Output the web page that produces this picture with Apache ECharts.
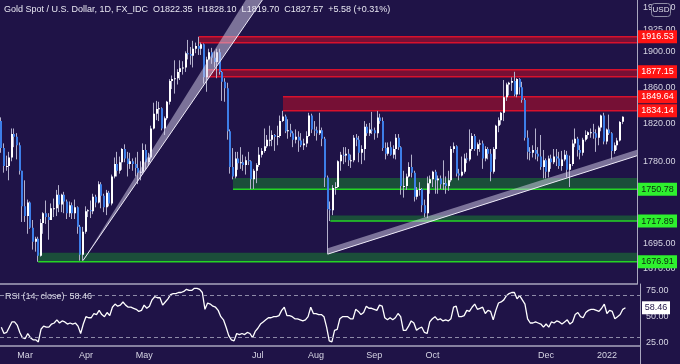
<!DOCTYPE html>
<html><head><meta charset="utf-8">
<script src="https://cdn.jsdelivr.net/npm/echarts@6/dist/echarts.min.js"></script>
<style>html,body{margin:0;padding:0;background:#1f1347;}#c{width:680px;height:364px;}</style>
</head><body><div id="c"></div>
<script>
// ---------- DATA (daily candles: [open, high, low, close]) ----------
const feb21 = [[1823,1827,1789,1794],[1794,1799,1768,1775],[1775,1786,1770,1775],[1775,1790,1760,1784],[1784,1815,1780,1809],[1809,1815,1795,1806],[1806,1810,1782,1797],[1797,1800,1766,1770],[1770,1770,1717,1733]];
const mar21 = [[1733,1760,1717,1723],[1723,1740,1705,1737],[1737,1738,1710,1711],[1711,1719,1689,1697],[1697,1702,1687,1700],[1700,1702,1676.91,1683],[1683,1720,1682,1716],[1716,1727,1705,1726],[1726,1739,1715,1722],[1722,1726,1699,1719],[1719,1736,1719,1731],[1731,1741,1722,1731],[1731,1750,1723,1745],[1745,1755,1727,1735],[1735,1746,1727,1745],[1745,1748,1726,1738],[1738,1740,1720,1726],[1726,1738,1722,1734],[1734,1737,1720,1726],[1726,1740,1720,1732],[1732,1733,1705,1712],[1712,1714,1678,1684],[1684,1712,1678,1707]];
const apr21 = [[1707,1733,1705,1728],[1728,1730,1722,1729],[1729,1739,1721,1728],[1728,1746,1725,1743],[1743,1745,1732,1737],[1737,1759,1736,1756],[1756,1758,1731,1744],[1744,1746,1727,1732],[1732,1750,1724,1747],[1747,1749,1733,1736],[1736,1766,1734,1764],[1764,1784,1762,1777],[1777,1790,1764,1770],[1770,1785,1767,1779],[1779,1794,1771,1793],[1793,1798,1779,1783],[1783,1790,1764,1777],[1777,1789,1772,1780],[1780,1783,1770,1777],[1777,1784,1764,1773],[1773,1790,1756,1768],[1768,1780,1760,1769]];
const may21 = [[1769,1799,1766,1792],[1792,1798,1771,1779],[1779,1789,1776,1784],[1784,1818,1782,1815],[1815,1843,1814,1831],[1831,1845,1824,1836],[1836,1844,1823,1837],[1837,1838,1813,1815],[1815,1828,1808,1826],[1826,1845,1824,1844],[1844,1869,1841,1867],[1867,1873,1858,1869],[1869,1890,1853,1870],[1870,1880,1863,1877],[1877,1890,1868,1881],[1881,1889,1874,1882],[1882,1900,1877,1898],[1898,1913,1891,1897],[1897,1905,1885,1895],[1895,1912,1882,1903],[1903,1910,1898,1906]];
const jun21 = [[1906,1916.53,1896,1903],[1903,1910,1896,1908],[1908,1909,1864,1871],[1871,1894,1855,1891],[1891,1903,1890,1899],[1899,1904,1886,1893],[1893,1900,1882,1888],[1888,1903,1870,1899],[1899,1903,1874,1877],[1877,1878,1845,1866],[1866,1870,1844,1859],[1859,1865,1803,1812],[1812,1814,1767,1774],[1774,1794,1761,1764],[1764,1790,1762,1783],[1783,1790,1771,1778],[1778,1795,1772,1779],[1779,1787,1770,1776],[1776,1785,1766,1781],[1781,1790,1776,1780],[1780,1781,1750.78,1761],[1761,1772,1751,1770]];
const jul21 = [[1770,1778,1757,1776],[1776,1795,1774,1787],[1787,1794,1784,1791],[1791,1815,1789,1796],[1796,1808,1794,1803],[1803,1818,1796,1803],[1803,1813,1796,1808],[1808,1809,1791,1806],[1806,1818,1797,1807],[1807,1829,1805,1823],[1823,1834.14,1822,1828],[1828,1830,1810,1812],[1812,1825,1804,1813],[1813,1820,1806,1810],[1810,1812,1795,1803],[1803,1814,1799,1806],[1806,1812,1790,1802],[1802,1810,1795,1797],[1797,1804,1792,1799],[1799,1812,1795,1807],[1807,1832,1806,1829],[1829,1831,1810,1814]];
const aug21 = [[1814,1823,1807,1813],[1813,1817,1802,1810],[1810,1832,1808,1813],[1813,1816,1796,1804],[1804,1806,1753,1763],[1763,1765,1684.5,1730],[1730,1738,1717.89,1729],[1729,1755,1724,1752],[1752,1758,1745,1753],[1753,1781,1752,1780],[1780,1790,1770,1787],[1787,1795,1777,1786],[1786,1795,1779,1788],[1788,1793,1775,1781],[1781,1787,1773,1781],[1781,1808,1779,1805],[1805,1809,1796,1803],[1803,1807,1779,1789],[1789,1797,1777,1793],[1793,1823,1781,1817],[1817,1820,1807,1810],[1810,1821,1807,1814]];
const sep21 = [[1814,1833,1809,1813],[1813,1816,1803,1810],[1810,1834,1805,1827],[1827,1831,1820,1823],[1823,1827,1791,1794],[1794,1800,1782,1788],[1788,1800,1786,1795],[1795,1801,1786,1787],[1787,1797,1783,1793],[1793,1809,1782,1805],[1805,1809,1792,1795],[1795,1796,1745,1754],[1754,1770,1742,1754],[1754,1767,1750,1764],[1764,1779,1763,1774],[1774,1787,1763,1768],[1768,1770,1738,1743],[1743,1753,1740,1750],[1750,1758,1744,1751],[1751,1752,1727,1734],[1734,1740,1722,1726],[1726,1764,1721,1757]];
const oct21 = [[1757,1765,1746,1761],[1761,1770,1753,1769],[1769,1771,1746,1760],[1760,1765,1746,1762],[1762,1765,1751,1756],[1756,1781,1750,1757],[1757,1764,1746,1754],[1754,1770,1749,1760],[1760,1796,1758,1793],[1793,1800,1789,1796],[1796,1797,1764,1767],[1767,1772,1760,1765],[1765,1785,1764,1769],[1769,1788,1767,1783],[1783,1789,1778,1782],[1782,1814,1780,1793],[1793,1810,1791,1807],[1807,1809,1791,1793],[1793,1800,1786,1798],[1798,1803,1790,1799],[1799,1802,1772,1783]];
const nov21 = [[1783,1796,1780,1793],[1793,1795,1782,1788],[1788,1793,1759,1769],[1769,1795,1767,1793],[1793,1819,1782,1818],[1818,1827,1811,1824],[1824,1833,1819,1832],[1832,1868,1823,1849],[1849,1865,1845,1863],[1863,1866,1851,1865],[1865,1871,1856,1867],[1867,1877.15,1850,1852],[1852,1870,1849,1869],[1869,1870,1852,1860],[1860,1866,1843,1846],[1846,1848,1802,1805],[1805,1813,1782,1790],[1790,1795,1781,1789],[1789,1797,1784,1792],[1792,1815,1782,1788],[1788,1795,1780,1785],[1785,1808,1771,1774]];
const dec21 = [[1774,1792,1762,1781],[1781,1783,1762,1769],[1769,1786,1763,1783],[1783,1787,1772,1779],[1779,1793,1777,1785],[1785,1793,1775,1783],[1783,1790,1772,1775],[1775,1791,1770,1782],[1782,1792,1780,1787],[1787,1791,1763,1771],[1771,1786,1753,1777],[1777,1803,1775,1799],[1799,1815,1795,1804],[1804,1806,1785,1792],[1792,1797,1782,1789],[1789,1805,1786,1803],[1803,1813,1801,1808],[1808,1812,1804,1811],[1811,1815,1805,1811],[1811,1820,1804,1810],[1810,1814,1790,1805],[1805,1818,1797,1816],[1816,1830,1812,1829]];
const jan22 = [[1829,1832,1798,1801],[1801,1815,1798,1814],[1814,1830,1808,1810],[1810,1811,1782,1791],[1791,1800,1788,1797],[1797,1805,1792,1802],[1802,1823,1801,1822],[1822.35,1828.10,1819.70,1827.57]];

// RSI(14, close) per bar
const rsi = [
40,34,35,40,45,45,42,35,30,
29,34,30,28,28,26,38,41,40,40,43,44,47,44,46,45,43,44,43,44,41,34,43,
50,49,49,53,52,56,52,50,54,51,59,62,60,61,64,61,59,59,58,57,55,56,
61,58,60,66,69,68,68,61,64,67,71,72,72,73,73,74,76,75,75,77,77,
76,73,57,63,62,60,59,56,50,47,40,32,28,27,34,33,34,33,35,34,30,36,
39,43,45,47,49,49,50,50,51,56,59,51,51,50,48,48,47,46,47,50,59,53,
53,52,52,50,40,27,26,37,38,48,50,50,50,48,48,57,55,52,54,60,58,58,
57,56,61,60,49,47,49,47,49,53,50,37,37,41,46,44,37,39,40,35,34,45,
48,50,47,48,46,47,46,48,59,60,50,50,51,56,55,59,62,57,58,59,53,
56,55,47,56,63,64,66,70,72,73,73,67,70,66,62,48,44,44,45,44,43,40,
43,40,45,44,46,45,43,45,47,43,45,52,54,50,49,54,56,57,57,56,55,58,62,
53,56,55,48,50,52,57,58.46];

const firstDate = '2021-02-16';
const monthTickDates = ['2021-03-01','2021-04-01','2021-05-03','2021-07-01','2021-08-02','2021-09-01','2021-10-01','2021-12-01','2022-01-03'];
const monthTickLabels = ['Mar','Apr','May','Jul','Aug','Sep','Oct','Dec','2022'];

const priceTicks = [1950, 1925, 1900, 1860, 1820, 1780, 1695, 1670];
const levelValues = [1916.53, 1877.15, 1849.64, 1834.14, 1750.78, 1717.89, 1676.91];
const levelKinds  = ['r','r','r','r','g','g','g'];

// zones: start date, upper price, lower price, kind
const zoneStart = ['2021-06-01','2021-06-04','2021-07-15','2021-06-18','2021-08-10','2021-03-08'];
const zoneHigh  = [1916.53, 1879.3, 1849.64, 1762.3, 1723.5, 1685.8];
const zoneLow   = [1909.7, 1871.5, 1834.14, 1750.78, 1717.89, 1676.91];
const zoneKind  = ['r','r','r','g','g','g'];

// trendlines: start date/price, end date/price
const trendStart = ['2021-03-31', '2021-08-09'];
const trendStartPrice = [1678, 1684.5];
const trendEnd = ['2021-07-13', '2022-01-12'];
const trendEndPrice = [1985, 1781];

const rsiValue = 58.46;
const rsiTicks = [25, 50, 75];
const rsiBands = [70, 30];

// ---------- BUILD ----------
const FONT = '"Liberation Sans Narrow","Liberation Sans",Arial,sans-serif';
const FS = 9;
const BG = '#1f1347';
const ohlc = [].concat(feb21, mar21, apr21, may21, jun21, jul21, aug21, sep21, oct21, nov21, dec21, jan22);
const dates = [];
{
  const d = new Date(firstDate + 'T00:00:00Z');
  while (dates.length < ohlc.length) {
    const wd = d.getUTCDay();
    if (wd !== 0 && wd !== 6) dates.push(d.toISOString().slice(0, 10));
    d.setUTCDate(d.getUTCDate() + 1);
  }
}
const TOTAL = 242;
const cats = dates.slice();
for (let k = 0; cats.length < TOTAL; k++) cats.push('pad' + k);
const idx = s => cats.indexOf(s);

const candleData = ohlc.map((r, i) => [i, r[0], r[1], r[2], r[3]]);
const zoneData = zoneStart.map((s, i) => [idx(s), zoneHigh[i], zoneLow[i], zoneKind[i] === 'r' ? 1 : 0]);
const trendData = trendStart.map((s, i) => [idx(s), trendStartPrice[i], idx(trendEnd[i]), trendEndPrice[i], i]);
const rsiData = rsi.map((v, i) => [i, v]);

const PMIN = 1654.9, PMAX = 1958.9;
const AXC = '#d6d5e4', LINEC = '#a9a7bf';

const chart = echarts.init(document.getElementById('c'), null, { renderer: 'canvas' });
chart.setOption({
  animation: false,
  backgroundColor: BG,
  textStyle: { fontFamily: FONT },
  grid: [
    { left: 0, right: 40, top: 0, height: 284 },
    { left: 0, right: 40, top: 284, height: 62 }
  ],
  xAxis: [
    { type: 'category', gridIndex: 0, data: cats, boundaryGap: true,
      axisLine: { show: true, lineStyle: { color: LINEC, width: 1.5 } }, axisTick: { show: false }, axisLabel: { show: false }, splitLine: { show: false } },
    { type: 'category', gridIndex: 1, data: cats, boundaryGap: true,
      axisLine: { show: true, lineStyle: { color: LINEC, width: 1.5 } }, axisTick: { show: false }, splitLine: { show: false },
      axisLabel: { color: AXC, fontSize: FS, fontFamily: FONT, margin: 5,
        interval: (i, v) => monthTickDates.indexOf(v) >= 0,
        formatter: v => { const k = monthTickDates.indexOf(v); return k >= 0 ? monthTickLabels[k] : ''; } } }
  ],
  yAxis: [
    { type: 'log', gridIndex: 0, position: 'right', min: PMIN, max: PMAX,
      axisLine: { show: true, lineStyle: { color: LINEC } }, axisTick: { show: false }, splitLine: { show: false },
      axisLabel: { customValues: priceTicks, color: AXC, fontSize: FS, fontFamily: FONT, margin: 6,
        formatter: v => (+v).toFixed(2) } },
    { type: 'log', gridIndex: 0, position: 'right', min: PMIN, max: PMAX, z: 6,
      axisLine: { show: false }, axisTick: { show: false }, splitLine: { show: false },
      axisLabel: { customValues: levelValues, margin: 1, fontSize: FS, fontFamily: FONT,
        formatter: v => {
          let best = 0; levelValues.forEach((lv, i) => { if (Math.abs(lv - v) < Math.abs(levelValues[best] - v)) best = i; });
          return '{' + levelKinds[best] + '|' + levelValues[best].toFixed(2) + '}';
        },
        rich: {
          r: { backgroundColor: '#ff1414', color: '#ffffff', width: 35, align: 'center', padding: [2, 2, 2, 2], fontSize: FS, fontFamily: FONT },
          g: { backgroundColor: '#2ef02e', color: '#0c2a10', width: 35, align: 'center', padding: [2, 2, 2, 2], fontSize: FS, fontFamily: FONT }
        } } },
    { type: 'value', gridIndex: 1, position: 'right', min: 22.1, max: 81.1,
      axisLine: { show: true, lineStyle: { color: LINEC } }, axisTick: { show: false }, splitLine: { show: false },
      axisLabel: { customValues: rsiTicks, color: AXC, fontSize: FS, fontFamily: FONT, margin: 6, formatter: v => (+v).toFixed(2) } },
    { type: 'value', gridIndex: 1, position: 'right', min: 22.1, max: 81.1, z: 6,
      axisLine: { show: false }, axisTick: { show: false }, splitLine: { show: false },
      axisLabel: { customValues: [rsiValue], margin: 2, fontSize: FS, fontFamily: FONT,
        formatter: v => '{w|' + (+v).toFixed(2) + '}',
        rich: { w: { backgroundColor: '#ffffff', color: '#1f1347', width: 24, align: 'center', padding: [2, 2, 2, 2], fontSize: FS, fontFamily: FONT } } } }
  ],
  series: [
    { // support / resistance zones
      type: 'custom', xAxisIndex: 0, yAxisIndex: 0, z: 1, silent: true,
      data: zoneData, encode: { x: 0, y: [1, 2] },
      renderItem: (params, api) => {
        const s = api.value(0), hi = api.value(1), lo = api.value(2), red = api.value(3) === 1;
        const a = api.coord([s, hi]), b = api.coord([s, lo]);
        const right = params.coordSys.x + params.coordSys.width;
        const x0 = a[0];
        const ch = [
          { type: 'rect', shape: { x: x0, y: a[1], width: right - x0, height: b[1] - a[1] },
            style: { fill: red ? '#761035' : '#1b4e3a' } },
          { type: 'line', shape: { x1: x0, y1: b[1], x2: right, y2: b[1] }, style: { stroke: red ? '#d8112c' : '#24d424', lineWidth: 1.5 } }
        ];
        if (red) ch.push({ type: 'line', shape: { x1: x0, y1: a[1], x2: right, y2: a[1] }, style: { stroke: '#d8112c', lineWidth: 1.5 } });
        return { type: 'group', children: ch };
      }
    },
    { // candles
      type: 'custom', xAxisIndex: 0, yAxisIndex: 0, z: 2, silent: true,
      data: candleData, encode: { x: 0, y: [1, 2, 3, 4] },
      renderItem: (params, api) => {
        const i = api.value(0), o = api.value(1), h = api.value(2), l = api.value(3), c = api.value(4);
        const po = api.coord([i, o]), pc = api.coord([i, c]), ph = api.coord([i, h]), pl = api.coord([i, l]);
        const cx = Math.round(po[0]);
        const up = c >= o;
        const top = Math.min(po[1], pc[1]), bot = Math.max(po[1], pc[1]);
        return { type: 'group', children: [
          { type: 'line', shape: { x1: cx - 0.5, y1: ph[1], x2: cx - 0.5, y2: pl[1] }, style: { stroke: '#b3b0cc', lineWidth: 1 } },
          { type: 'rect', shape: { x: cx - 1, y: top, width: 2, height: Math.max(1, bot - top) }, style: { fill: up ? '#ffffff' : '#3d7ee8' } }
        ] };
      }
    },
    { // trend channels
      type: 'custom', xAxisIndex: 0, yAxisIndex: 0, z: 3, silent: true,
      data: trendData, encode: { x: [0, 2], y: [1, 3] },
      renderItem: (params, api) => {
        const A = api.coord([api.value(0), api.value(1)]);
        let B = api.coord([api.value(2), api.value(3)]);
        const which = api.value(4);
        const right = params.coordSys.x + params.coordSys.width;
        let poly;
        if (which === 0) {
          poly = [A, B, [B[0] - 18, B[1]]];
        } else {
          const k = (B[1] - A[1]) / (B[0] - A[0]);
          B = [right, A[1] + k * (right - A[0])];
          poly = [A, B, [B[0], B[1] - 6], [A[0], A[1] - 6]];
        }
        return { type: 'group', children: [
          { type: 'polygon', shape: { points: poly }, style: { fill: 'rgba(215,210,235,0.5)' } },
          { type: 'line', shape: { x1: A[0], y1: A[1], x2: B[0], y2: B[1] }, style: { stroke: '#eeeaf8', lineWidth: 1 } }
        ] };
      }
    },
    { // RSI
      type: 'line', xAxisIndex: 1, yAxisIndex: 2, data: rsiData, showSymbol: false, symbol: 'none',
      lineStyle: { color: '#ffffff', width: 1.3 }, z: 3,
      markLine: { silent: true, symbol: 'none', label: { show: false },
        lineStyle: { color: '#8e8ba8', type: [4, 3], width: 1 },
        data: rsiBands.map(v => ({ yAxis: v })) }
    }
  ],
  graphic: [
    { type: 'text', left: 4, top: 5, z: 10, style: { text: 'Gold Spot / U.S. Dollar, 1D, FX_IDC  O1822.35  H1828.10  L1819.70  C1827.57  +5.58 (+0.31%)', fill: '#e8e7f2', fontSize: FS, fontFamily: FONT } },
    { type: 'text', left: 5, top: 292, z: 10, style: { text: 'RSI (14, close)  58.46', fill: '#dcdbe8', fontSize: FS, fontFamily: FONT } },
    { type: 'line', z: 10, shape: { x1: 640.5, y1: 346, x2: 640.5, y2: 364 }, style: { stroke: LINEC, lineWidth: 1 } },
    { type: 'rect', z: 20, shape: { x: 651.5, y: 3.5, width: 19, height: 13, r: 3 }, style: { fill: BG, stroke: '#8e8ca6', lineWidth: 1 } },
    { type: 'text', z: 21, x: 661, y: 10, style: { text: 'USD', fill: '#e0dfea', fontSize: 8, fontFamily: FONT, align: 'center', verticalAlign: 'middle' } }
  ]
});
</script></body></html>
